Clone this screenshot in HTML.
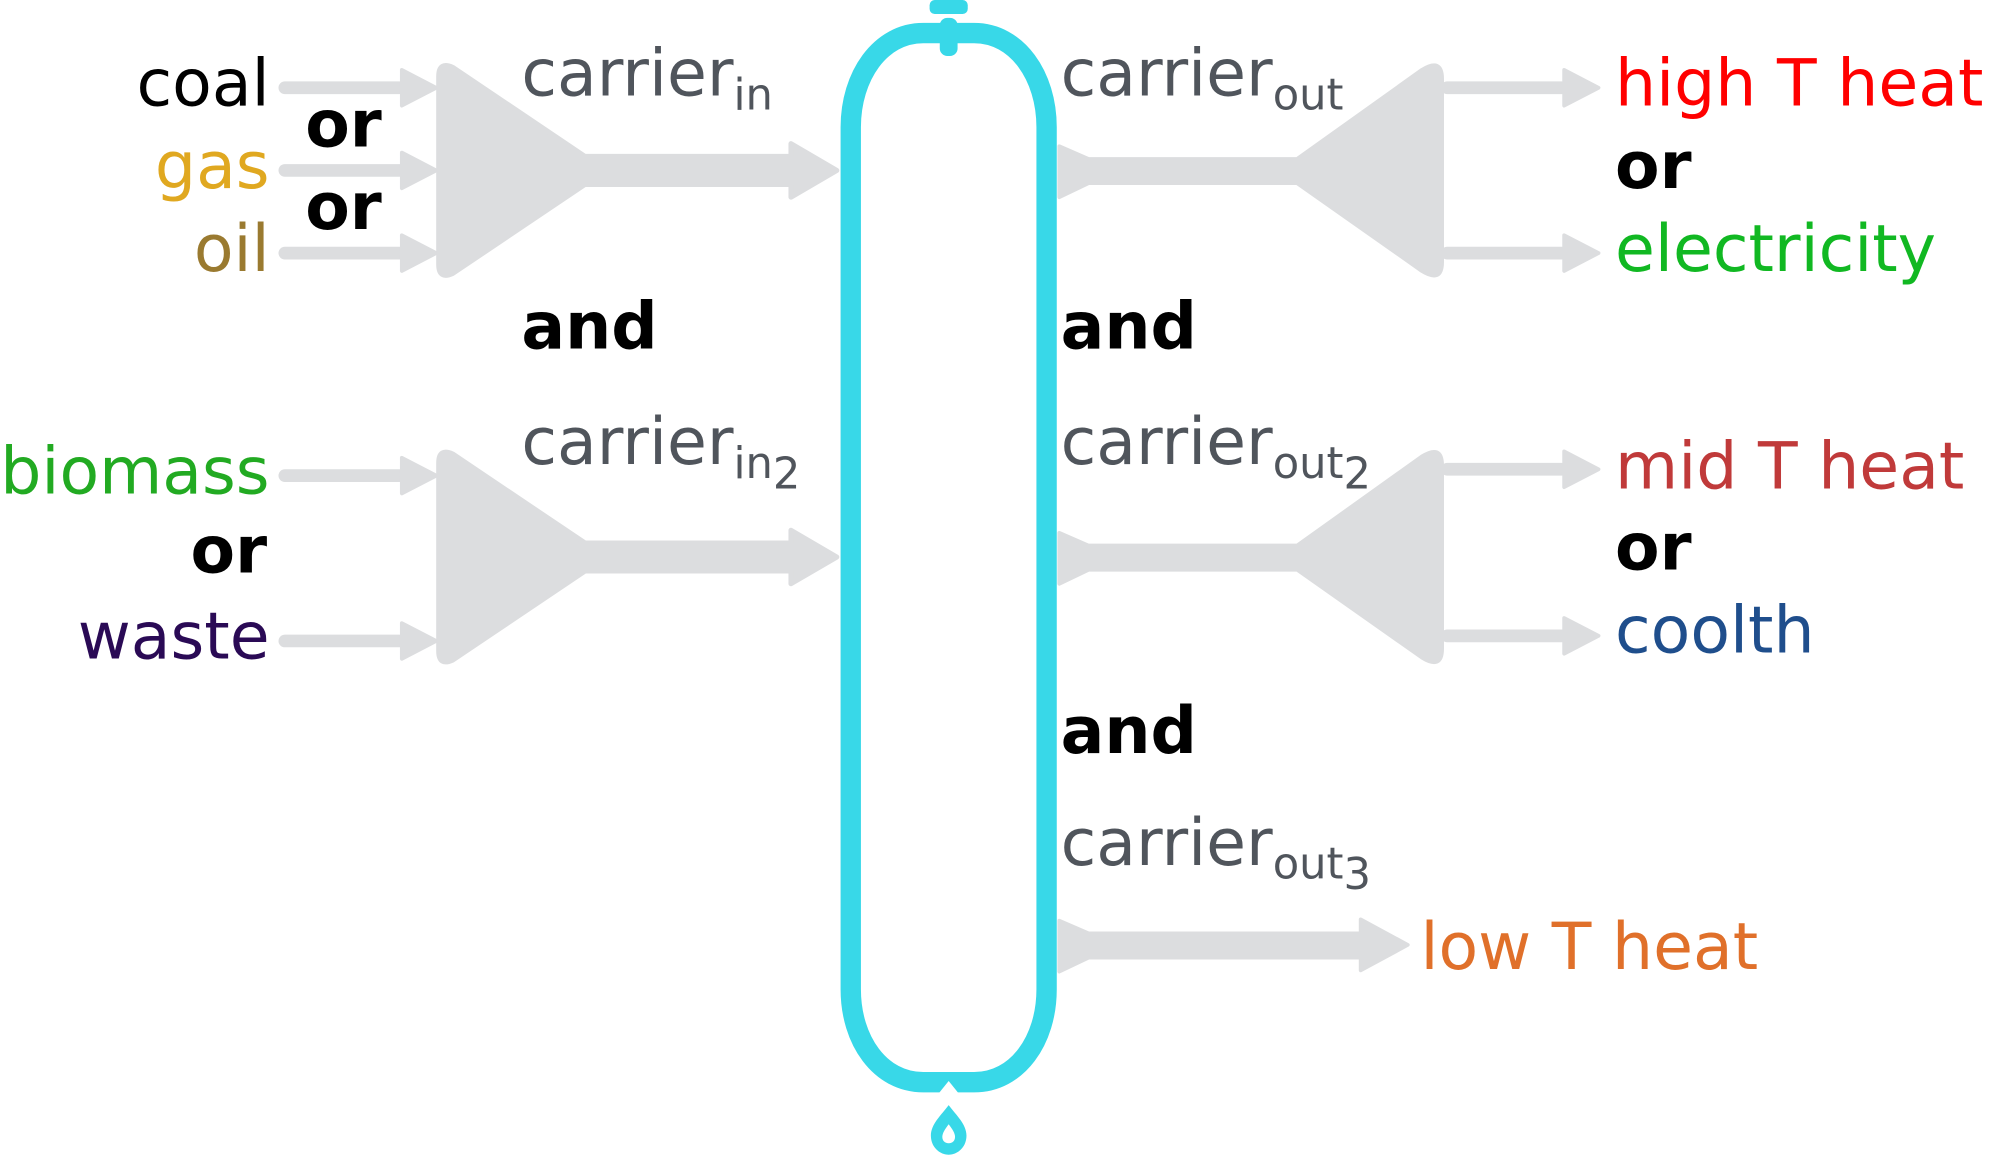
<!DOCTYPE html>
<html><head><meta charset="utf-8"><style>
html,body{margin:0;padding:0;background:#fff;}
svg{display:block;}
text{font-family:"DejaVu Sans","Liberation Sans",sans-serif;}
.g{fill:#50555c;font-size:51px;}
.s{font-size:34px;}
.b{font-weight:bold;font-size:51px;fill:#000;}
.t{font-size:51px;}
</style></head><body>
<svg width="1994" height="1156" viewBox="0 0 1568 909" xmlns="http://www.w3.org/2000/svg">
<defs>
<g id="sa"><rect x="0" y="-5" width="100" height="10" rx="5" fill="#dcdddf"/><polygon points="97,-14 124,0 97,14" fill="#dcdddf" stroke="#dcdddf" stroke-width="3" stroke-linejoin="round"/></g>
<g id="funIn"><path d="M345,60 Q345,48 356,53 L460,123 L622,123 L622,113 L658,134 L622,155 L622,145 L460,145 L356,215 Q345,220 345,208 Z" fill="#dcdddf" stroke="#dcdddf" stroke-width="4" stroke-linejoin="round"/></g>
<g id="funOut"><path d="M833,115 L856,125 L1020,125 L1118,55 Q1134,45 1134,62 L1134,206 Q1134,223 1118,213 L1020,144 L856,144 L833,155 Z" fill="#dcdddf" stroke="#dcdddf" stroke-width="3" stroke-linejoin="round"/></g>
</defs>
<use href="#sa" x="219" y="69"/>
<use href="#sa" x="219" y="134"/>
<use href="#sa" x="219" y="199"/>
<use href="#funIn"/>
<use href="#sa" x="219" y="374"/>
<use href="#sa" x="219" y="504"/>
<use href="#funIn" y="304"/>
<text x="212" y="83" text-anchor="end" class="t" fill="#000">coal</text>
<text x="212" y="148" text-anchor="end" class="t" fill="#e0a820">gas</text>
<text x="212" y="213" text-anchor="end" class="t" fill="#9a7a30">oil</text>
<text x="240" y="115" class="b">or</text>
<text x="240" y="180" class="b">or</text>
<text x="212" y="388" text-anchor="end" class="t" fill="#22aa22">biomass</text>
<text x="210" y="450" text-anchor="end" class="b">or</text>
<text x="212" y="518" text-anchor="end" class="t" fill="#2a0a55">waste</text>
<text x="410" y="75" class="g">carrier<tspan class="s" dy="11">in</tspan></text>
<text x="410" y="274" class="b">and</text>
<text x="410" y="365" class="g">carrier<tspan class="s" dy="11">in</tspan><tspan class="s" dy="8">2</tspan></text>
<path d="M746,26 L766,26 C800,26 823,60 823,100 L823,778 C823,818 800,851 766,851 L726,851 C692,851 669,818 669,778 L669,100 C669,60 692,26 726,26 Z" fill="none" stroke="#38d8e8" stroke-width="16"/>
<rect x="731" y="0" width="30" height="11" rx="4" fill="#38d8e8"/>
<rect x="739" y="14" width="14" height="30" rx="6" fill="#38d8e8"/>
<polygon points="738,860 746,850 754,860" fill="#fff"/>
<path d="M746,869 C740,877 732,884 732,893 C732,902 739,908 746,908 C753,908 760,902 760,893 C760,884 752,877 746,869 Z" fill="#38d8e8"/>
<path d="M746,884 C743,888 741,891 741,894 C741,897 743,899 746,899 C749,899 751,897 751,894 C751,891 749,888 746,884 Z" fill="#fff"/>
<use href="#funOut"/>
<use href="#sa" x="1133" y="69"/>
<use href="#sa" x="1133" y="199"/>
<use href="#funOut" y="304"/>
<use href="#sa" x="1133" y="369"/>
<use href="#sa" x="1133" y="500"/>
<path d="M833,724 L856,734 L1070,734 L1070,723 L1107,743 L1070,763 L1070,753 L856,753 L833,764 Z" fill="#dcdddf" stroke="#dcdddf" stroke-width="3" stroke-linejoin="round"/>
<text x="834" y="75" class="g">carrier<tspan class="s" dy="11">out</tspan></text>
<text x="834" y="274" class="b">and</text>
<text x="834" y="365" class="g">carrier<tspan class="s" dy="11">out</tspan><tspan class="s" dy="8">2</tspan></text>
<text x="834" y="592" class="b">and</text>
<text x="834" y="680" class="g">carrier<tspan class="s" dy="11">out</tspan><tspan class="s" dy="8">3</tspan></text>
<text x="1270" y="83" class="t" fill="#ff0000">high T heat</text>
<text x="1270" y="148" class="b">or</text>
<text x="1270" y="213" class="t" fill="#11b822">electricity</text>
<text x="1270" y="384" class="t" fill="#c03a3a">mid T heat</text>
<text x="1270" y="448" class="b">or</text>
<text x="1270" y="513" class="t" fill="#1f4e8c">coolth</text>
<text x="1117" y="762" class="t" fill="#e0702a">low T heat</text>
</svg>
</body></html>
